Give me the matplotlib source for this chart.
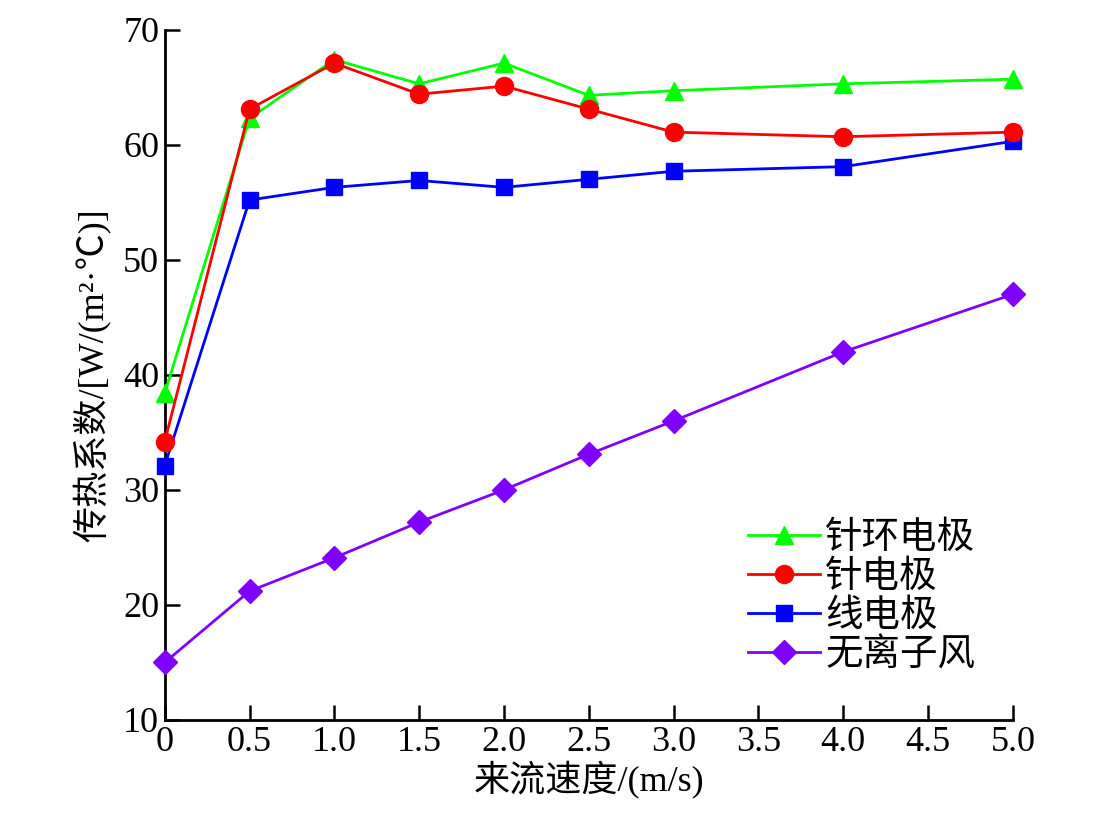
import matplotlib.pyplot as plt

plt.rcParams["font.family"] = ["Liberation Serif", "Noto Sans CJK SC"]

# 来流速度 (m/s)
speed = [0, 0.5, 1.0, 1.5, 2.0, 2.5, 3.0, 4.0, 5.0]

# 传热系数 W/(m2·℃)
needle_ring = [38.4, 62.3, 67.4, 65.3, 67.1, 64.3, 64.7, 65.3, 65.7]
needle = [34.2, 63.1, 67.1, 64.4, 65.1, 63.1, 61.1, 60.7, 61.1]
wire = [32.1, 55.2, 56.3, 56.9, 56.3, 57.0, 57.7, 58.1, 60.3]
no_wind = [15.0, 21.2, 24.1, 27.2, 30.0, 33.1, 36.0, 42.0, 47.0]

xticks = [0, 0.5, 1.0, 1.5, 2.0, 2.5, 3.0, 3.5, 4.0, 4.5, 5.0]
xtick_labels = ["0", "0.5", "1.0", "1.5", "2.0", "2.5", "3.0", "3.5", "4.0", "4.5", "5.0"]
yticks = [10, 20, 30, 40, 50, 60, 70]

fig = plt.figure(figsize=(11.13, 8.13), dpi=100)
ax = fig.add_axes([0.148, 0.1144, 0.762, 0.849])

l4, = ax.plot(speed, no_wind, "-D", color="#7F00FF", lw=2, ms=12, clip_on=False, zorder=3)
l3, = ax.plot(speed, wire, "-s", color="#0000FF", lw=2, ms=12, clip_on=False, zorder=4)
l1, = ax.plot(speed, needle_ring, "-^", color="#00FF00", lw=2, ms=13, clip_on=False, zorder=5)
l2, = ax.plot(speed, needle, "-o", color="#FF0000", lw=2, ms=13, clip_on=False, zorder=6)

ax.set_xlim(0, 5)
ax.set_ylim(10, 70)
ax.set_xticks(xticks)
ax.set_xticklabels(xtick_labels)
ax.set_yticks(yticks)
ax.tick_params(direction="in", length=11, width=1.8, labelsize=26, pad=4)
for s in ["top", "right"]:
    ax.spines[s].set_visible(False)
for s in ["left", "bottom"]:
    ax.spines[s].set_linewidth(2)

ax.set_xlabel("来流速度/(m/s)", fontsize=26, labelpad=2)
ax.set_ylabel("传热系数/[W/(m²·℃)]", fontsize=26, labelpad=8)

ax.legend([l1, l2, l3, l4], ["针环电极", "针电极", "线电极", "无离子风"],
          loc="lower left", bbox_to_anchor=(0.659, 0.153), bbox_transform=fig.transFigure,
          frameon=False, fontsize=27, handlelength=1.9, handletextpad=0.15,
          labelspacing=0.12, borderaxespad=0)

fig.savefig("out.png", dpi=100)
